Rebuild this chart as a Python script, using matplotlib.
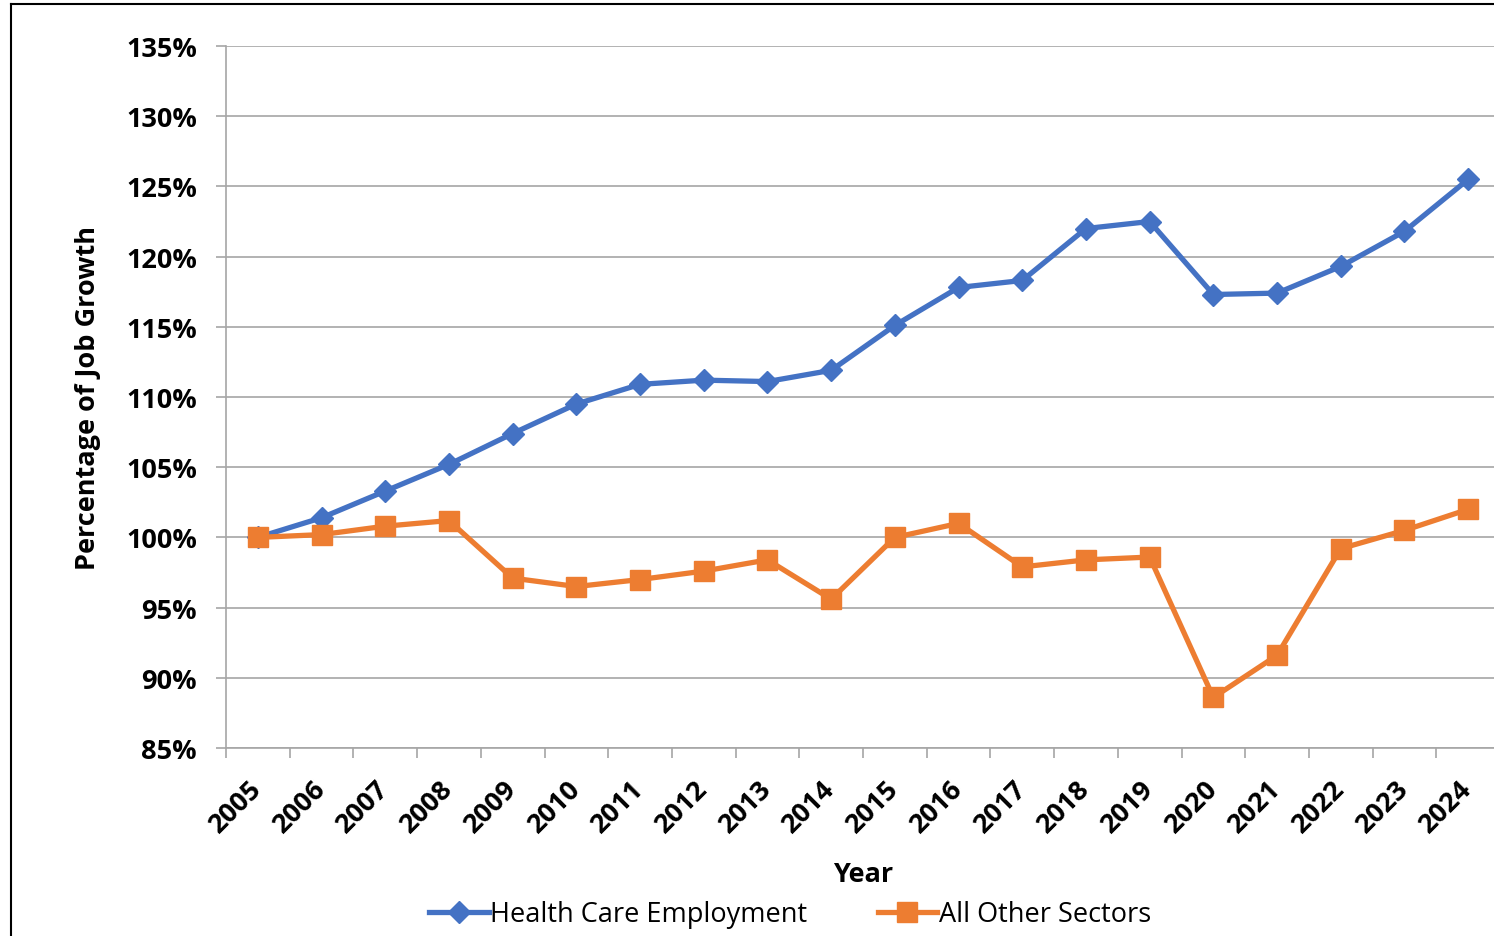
"""Health care vs. all other sectors: job growth index, 2005 = 100%."""
import matplotlib
matplotlib.use("Agg")
import matplotlib.pyplot as plt
from matplotlib.lines import Line2D
from matplotlib.ticker import FuncFormatter, MultipleLocator

years = [str(y) for y in range(2005, 2025)]
health_care = [100.0, 101.4, 103.3, 105.2, 107.4, 109.5, 110.9, 111.2, 111.1, 111.9,
               115.1, 117.8, 118.3, 122.0, 122.5, 117.3, 117.4, 119.3, 121.8, 125.5]
all_other = [100.0, 100.2, 100.8, 101.2, 97.1, 96.5, 97.0, 97.6, 98.4, 95.6,
             100.0, 101.0, 97.9, 98.4, 98.6, 88.6, 91.6, 99.2, 100.5, 102.0]

BLUE = "#4472C4"
ORANGE = "#ED7D31"
GRID = "#A6A6A6"

plt.rcParams["font.family"] = ["Open Sans", "DejaVu Sans"]

W, H = 1494, 937
fig = plt.figure(figsize=(W / 100, H / 100), dpi=100)
ax = fig.add_axes([226 / W, 1 - 749 / H, 20 * 63.7 / W, 702 / H])

x = list(range(len(years)))
ax.plot(x, health_care, color=BLUE, lw=3.8, marker="D", ms=11,
        label="Health Care Employment", zorder=3)
ax.plot(x, all_other, color=ORANGE, lw=3.8, marker="s", ms=14.5,
        label="All Other Sectors", zorder=3)

ax.set_xlim(-0.5, len(years) - 0.5)
ax.set_ylim(85, 135)
ax.yaxis.set_major_locator(MultipleLocator(5))
ax.yaxis.set_major_formatter(FuncFormatter(lambda v, _: f"{v:.0f}%"))
ax.grid(axis="y", color=GRID, lw=1.2, zorder=0)

ax.set_xticks(x)
ax.set_xticklabels(years, rotation=45, ha="right", va="center",
                   rotation_mode="anchor", fontweight="bold", fontsize=19.5)
ax.set_xticks([i - 0.5 for i in range(len(years) + 1)], minor=True)
ax.tick_params(axis="x", which="major", length=0, pad=26)
ax.tick_params(axis="x", which="minor", length=7, width=1.2, color=GRID)
ax.tick_params(axis="y", length=7, width=1.2, color=GRID, pad=14, labelsize=19.5)
for lab in ax.get_yticklabels():
    lab.set_fontweight("bold")

for side in ("top", "right"):
    ax.spines[side].set_visible(False)
for side in ("left", "bottom"):
    ax.spines[side].set_color(GRID)
    ax.spines[side].set_linewidth(1.2)

ax.set_xlabel("Year", fontsize=19.5, fontweight="bold", labelpad=17)
ax.set_ylabel("Percentage of Job Growth", fontsize=19.5, fontweight="bold", labelpad=18)

fig.legend(loc="center", bbox_to_anchor=(790 / W, 1 - 915 / H), ncol=2,
           frameon=False, fontsize=19.5, handlelength=2.2, columnspacing=2.6,
           handletextpad=0.05)

# chart frame (clipped on the right and bottom in the original)
fig.add_artist(Line2D([10.5 / W, 10.5 / W], [0, 1 - 5 / H], color="black", lw=1.5,
                      transform=fig.transFigure))
fig.add_artist(Line2D([10.5 / W, 1], [1 - 5 / H, 1 - 5 / H], color="black", lw=1.5,
                      transform=fig.transFigure))

fig.savefig("out.png", dpi=100)
